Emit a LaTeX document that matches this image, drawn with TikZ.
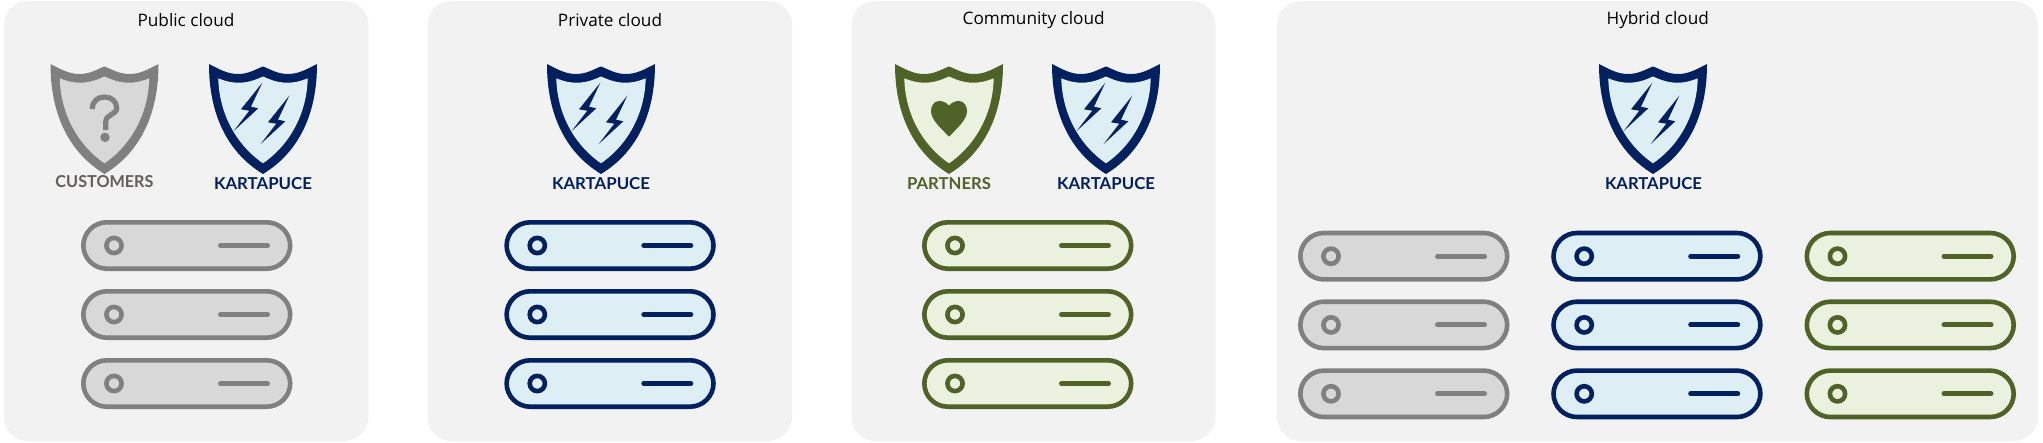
\documentclass[tikz,border=0pt]{standalone}
\usepackage{fontspec}
\usepackage{graphicx}
\setmainfont{Open Sans}
\newfontfamily\labelfont{Lato}
\definecolor{panelbg}{HTML}{F2F2F2}
\definecolor{grayline}{HTML}{808080}
\definecolor{grayfill}{HTML}{D8D8D8}
\definecolor{blueline}{HTML}{002060}
\definecolor{bluefill}{HTML}{DDEEF5}
\definecolor{greenline}{HTML}{4F6228}
\definecolor{greenfill}{HTML}{EBF1DF}
\definecolor{custtext}{HTML}{625E58}
\tikzset{
  panel/.style={fill=panelbg,rounded corners=24pt},
  title/.style={font=\fontsize{17.2}{20}\selectfont,text=black,inner sep=0pt,anchor=center},
  badge/.style={font=\labelfont\bfseries,inner sep=0pt,anchor=center},
  serverbody/.style={line width=4.6pt,rounded corners=23.5pt},
  serverlamp/.style={line width=4.6pt},
  serverbar/.style={line width=5pt,line cap=round},
}
% #1 cx, #2 line colour, #3 fill colour
\newcommand{\shieldbase}[3]{%
  \begin{scope}[shift={(#1,64)}]
    \fill[#2] (-54,0) .. controls (-44,5) and (-36,10) .. (-25,10)
      .. controls (-14,10) and (-7,5) .. (0,2.5)
      .. controls (7,5) and (14,10) .. (25,10)
      .. controls (36,10) and (44,5) .. (54,0)
      .. controls (54,50) and (36,88) .. (0,110)
      .. controls (-36,88) and (-54,50) .. (-54,0) -- cycle;
    \fill[#3] (-44.7,14.3) .. controls (-37,17.5) and (-31,18.7) .. (-24.5,18.7)
      .. controls (-14,18.7) and (-7,15.5) .. (0,12.5)
      .. controls (7,15.5) and (14,18.7) .. (24.5,18.7)
      .. controls (31,18.7) and (37,17.5) .. (44.7,14.3)
      .. controls (44,48) and (28,80) .. (0,99.3)
      .. controls (-28,80) and (-44,48) .. (-44.7,14.3) -- cycle;
  \end{scope}}
\newcommand{\boltshield}[1]{%
  \shieldbase{#1}{blueline}{bluefill}%
  \begin{scope}[shift={(#1,64)}]
    \foreach \dx/\dy in {0/0,27/13}{
      \fill[blueline,shift={(\dx,\dy)}] (-0.7,18.7) -- (-22,45.3) -- (-13.7,46.7) -- (-29.3,67)
        -- (-4.7,44.3) -- (-12,42.7) -- cycle;
    }
  \end{scope}}
\newcommand{\askshield}[1]{%
  \shieldbase{#1}{grayline}{grayfill}%
  \begin{scope}[shift={(#1,64)}]
    \draw[grayline,line width=5.2pt] (-12.2,45) .. controls (-12.2,37.5) and (-7,33) .. (0,33)
      .. controls (7,33) and (12.2,37.5) .. (12.2,44)
      .. controls (12.2,51) and (1.2,50) .. (1.2,58) -- (1.2,66);
    \fill[grayline] (0.5,73.3) circle (4.7);
  \end{scope}}
\newcommand{\heartshield}[1]{%
  \shieldbase{#1}{greenline}{greenfill}%
  \begin{scope}[shift={(#1,64)}]
    \fill[greenline] (0,41.7) .. controls (-3,38) and (-7,37) .. (-10,37)
      .. controls (-15,37) and (-18,42) .. (-18,47)
      .. controls (-18,56) and (-8,64) .. (0,72.7)
      .. controls (8,64) and (18,56) .. (18,47)
      .. controls (18,42) and (15,37) .. (10,37)
      .. controls (7,37) and (3,38) .. (0,41.7) -- cycle;
  \end{scope}}
% #1 outer left x, #2 outer top y, #3 line, #4 fill
\newcommand{\serverunit}[4]{%
  \begin{scope}[shift={(#1,#2)}]
    \draw[serverbody,draw=#3,fill=#4] (2.3,2.3) rectangle (209.2,48.7);
    \draw[serverlamp,draw=#3] (33,25.5) circle (7.6);
    \draw[serverbar,draw=#3] (139.5,25.5) -- (186.5,25.5);
  \end{scope}}
\begin{document}
\begin{tikzpicture}[x=1pt,y=-1pt]
\useasboundingbox (0,0) rectangle (2043,442);
% panels
\fill[panel] (4,1) rectangle (368.5,441);
\fill[panel] (427.5,1) rectangle (792,441);
\fill[panel] (851.5,1) rectangle (1215.5,441);
\fill[panel] (1277,1) rectangle (2038,441);
% titles
\node[title] (t1) at (186,20.2) {Public cloud};
\node[title] (t2) at (610,20.2) {Private cloud};
\node[title] (t3) at (1033.7,20.2) {Community cloud};
\node[title] (t4) at (1657.7,20.2) {Hybrid cloud};
% shields
\askshield{104.5}
\boltshield{263}
\boltshield{601}
\heartshield{949}
\boltshield{1106}
\boltshield{1653}
% labels
\node[badge,text=custtext] (lc) at (104.5,181.5) {\resizebox{98pt}{12pt}{CUSTOMERS}};
\node[badge,text=blueline] (lk1) at (263,183.5) {\resizebox{98pt}{12pt}{KARTAPUCE}};
\node[badge,text=blueline] (lk2) at (601,183.5) {\resizebox{98pt}{12pt}{KARTAPUCE}};
\node[badge,text=greenline] (lp) at (949,183.5) {\resizebox{84pt}{12pt}{PARTNERS}};
\node[badge,text=blueline] (lk3) at (1106,183.5) {\resizebox{98pt}{12pt}{KARTAPUCE}};
\node[badge,text=blueline] (lk4) at (1653.5,183.5) {\resizebox{97pt}{12pt}{KARTAPUCE}};
% servers
\foreach \yy in {220,289,358}{
  \serverunit{81}{\yy}{grayline}{grayfill}
  \serverunit{504.3}{\yy}{blueline}{bluefill}
  \serverunit{922}{\yy}{greenline}{greenfill}
}
\foreach \yy in {230.7,299.4,368.3}{
  \serverunit{1298}{\yy}{grayline}{grayfill}
  \serverunit{1551.2}{\yy}{blueline}{bluefill}
  \serverunit{1804.5}{\yy}{greenline}{greenfill}
}
\end{tikzpicture}
\end{document}
